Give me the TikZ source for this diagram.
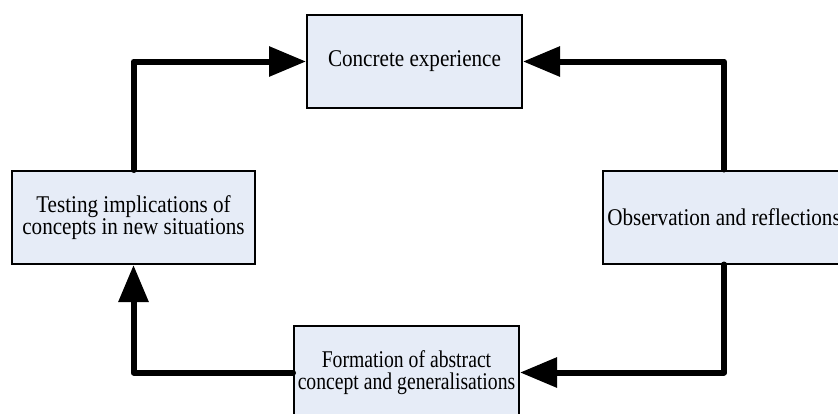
\documentclass[tikz,border=0pt]{standalone}
\usepackage{fontspec}
\setmainfont{Liberation Serif}[FakeStretch=0.88]
\newfontfamily\narrowserif{Liberation Serif}[FakeStretch=0.82]
\usetikzlibrary{arrows.meta}
\definecolor{boxfill}{HTML}{E6ECF7}
\begin{document}
\begin{tikzpicture}[x=1pt,y=-1pt,
  cbox/.style={draw=black,line width=2pt,fill=boxfill,rectangle,inner sep=0pt,
    align=center,font=\fontsize{24}{22}\selectfont,minimum height=93pt},
  conn/.style={line width=6pt,line cap=round,line join=round,
    -{Triangle[length=37pt,width=29pt]}}]
\useasboundingbox (0,0) rectangle (838,413);
\clip (0,0) rectangle (838,413);
\fill[white] (0,0) rectangle (838,413);
\node[cbox,minimum width=215pt] (ce) at (414.5,61.5) {Concrete experience};
\node[cbox,minimum width=243pt] (test) at (133.5,217.5) {Testing implications of\\concepts in new situations};
\node[cbox,minimum width=242pt] (obs) at (724,217) {Observation and reflections};
\node[cbox,minimum width=225pt,font=\narrowserif\fontsize{24}{22}\selectfont] (form) at (406.5,372.5) {Formation of abstract\\concept and generalisations};
\draw[conn] (test.north) |- (ce.west);
\draw[conn] (obs.north) |- (ce.east);
\draw[conn] (obs.south) |- (form.east);
\draw[conn] (form.west) -| (test.south);
\end{tikzpicture}
\end{document}
